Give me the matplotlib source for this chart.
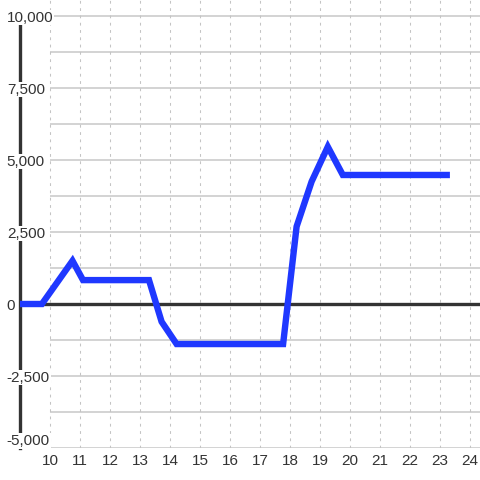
import numpy as np
import matplotlib
matplotlib.use('Agg')
import matplotlib.pyplot as plt

# hours of the day and the running value
hours = [8.9, 9.73, 10.75, 11.1, 13.3, 13.72, 14.22, 17.77, 18.22, 18.72, 19.26, 19.76, 23.33]
values = [0, 0, 1500, 830, 830, -615, -1390, -1390, 2690, 4250, 5460, 4480, 4480]

x_ticks = list(range(10, 25))
y_ticks = [-5000, -2500, 0, 2500, 5000, 7500, 10000]
y_grid = np.arange(-5000, 10001, 1250)

plt.rcParams['font.family'] = ['Liberation Sans', 'DejaVu Sans']

fig = plt.figure(figsize=(4.8, 4.8), dpi=100)
ax = fig.add_axes([20 / 480, 32 / 480, 460 / 480, 448 / 480])

ax.set_xlim(9, 24.333)
ax.set_ylim(-5000, 10556)

# grid
ax.hlines(y_grid, 10, 24.333, color='#c8c8c8', lw=1.1, zorder=1)
ax.vlines(x_ticks, -5000, 10556, color='#c4c4c4', lw=0.75, linestyles=(0, (2.7, 4.3)), zorder=1)
ax.axhline(0, color='#333333', lw=2.4, zorder=1.5)

ax.plot(hours, values, color='#1f38ff', lw=4.6, solid_joinstyle='miter',
        solid_capstyle='butt', zorder=3)

for s in ['top', 'right', 'bottom']:
    ax.spines[s].set_visible(False)
ax.spines['left'].set_linewidth(2.4)
ax.spines['left'].set_color('#333333')
ax.spines['left'].set_bounds(-5000, 10000)
ax.spines['left'].set_zorder(1.6)

ax.set_xticks(x_ticks)
ax.set_xticklabels([str(t) for t in x_ticks])
ax.set_yticks(y_ticks)
ax.set_yticklabels(['{:,}'.format(t) for t in y_ticks])
ax.tick_params(axis='x', length=0, pad=4, labelsize=11, labelcolor='#333333')
ax.tick_params(axis='y', length=0, pad=9.5, labelsize=11, labelcolor='#333333')
for lab in ax.get_yticklabels():
    lab.set_ha('left')
    lab.set_bbox(dict(facecolor='white', edgecolor='none', pad=0.5))
ax.get_yticklabels()[0].set_va('bottom')
ax.yaxis.set_zorder(2.5)

fig.savefig('out.png', dpi=100, facecolor='white')
